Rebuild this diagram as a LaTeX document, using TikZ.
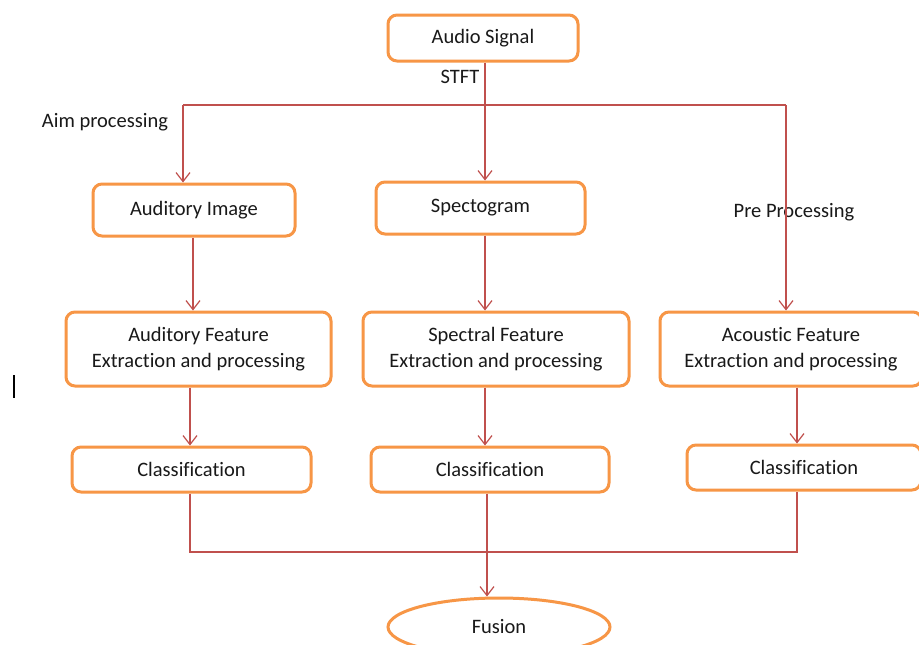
\documentclass[tikz,border=0pt]{standalone}
\usepackage{fontspec}
\setmainfont{Carlito}[Ligatures=NoCommon]
\usetikzlibrary{arrows.meta,shapes.geometric}
\definecolor{boxorange}{RGB}{247,150,70}
\definecolor{linered}{RGB}{192,80,77}
\definecolor{txt}{RGB}{25,25,25}
\begin{document}
\begin{tikzpicture}[x=1pt,y=-1pt,
  box/.style={draw=boxorange,line width=3pt,rounded corners=9pt,fill=white,
    text=txt,font=\fontsize{20.5}{26}\selectfont,align=center,inner sep=0pt},
  oval/.style={draw=boxorange,line width=3pt,ellipse,fill=white,
    text=txt,font=\fontsize{20.5}{26}\selectfont,inner sep=0pt},
  lbl/.style={text=txt,font=\fontsize{20.5}{26}\selectfont,inner sep=0pt},
  conn/.style={draw=linered,line width=1.2pt},
  arr/.style={conn,-{Straight Barb[length=9pt,width=14pt,line width=1.2pt]}}]
\useasboundingbox (0,0) rectangle (919,645);
\clip (0,0) rectangle (919,645);
\fill[white] (0,0) rectangle (919,645);

% nodes
\node[box,minimum width=190,minimum height=46] (audio) at (483,38) {Audio Signal};
\node[box,minimum width=202,minimum height=52] (audimg) at (194,210) {Auditory Image};
\node[box,minimum width=209,minimum height=52] (spec) at (480.5,208) {Spectogram};
\node[box,minimum width=265,minimum height=74] (audfeat) at (198.5,349) {Auditory Feature\\Extraction and processing};
\node[box,minimum width=266,minimum height=74] (specfeat) at (496,349) {Spectral Feature\\Extraction and processing};
\node[box,minimum width=262,minimum height=74] (acoufeat) at (791,349) {Acoustic Feature\\Extraction and processing};
\node[box,minimum width=239,minimum height=45] (class1) at (191.5,469.5) {Classification};
\node[box,minimum width=238,minimum height=45] (class2) at (490,469.5) {Classification};
\node[box,minimum width=234,minimum height=45] (class3) at (804,467.5) {Classification};
\node[oval,minimum width=222,minimum height=58] (fusion) at (499,627) {Fusion};

% labels
\node[lbl] (stft) at (460,77) {STFT};
\node[lbl] (aim) at (105,122) {Aim processing};
\node[lbl] (pre) at (794,212) {Pre Processing};

% trunk coordinates
\coordinate (xl) at (183,105);
\coordinate (xm) at (485,105);
\coordinate (xr) at (786,105);
\coordinate (xa) at (193,0);
\coordinate (xl2) at (190,0);
\coordinate (xr2) at (797,0);
\coordinate (xf) at (487,0);
\coordinate (yb) at (0,552);

% top distribution
\draw[conn] (audio.south -| xm) -- (xm);
\draw[conn] (xl) -- (xr);
\draw[arr] (xl) -- (xl |- audimg.north);
\draw[arr] (xm) -- (xm |- spec.north);
\draw[arr] (xr) -- (xr |- acoufeat.north);

% middle arrows
\draw[arr] (audimg.south -| xa) -- (audfeat.north -| xa);
\draw[arr] (spec.south -| xm) -- (specfeat.north -| xm);
\draw[arr] (audfeat.south -| xl2) -- (class1.north -| xl2);
\draw[arr] (specfeat.south -| xm) -- (class2.north -| xm);
\draw[arr] (acoufeat.south -| xr2) -- (class3.north -| xr2);

% bottom collection
\draw[conn] (class1.south -| xl2) -- (xl2 |- yb) -- (xr2 |- yb) -- (class3.south -| xr2);
\draw[arr] (class2.south -| xf) -- (fusion.north -| xf);

% stray cursor mark
\draw[line width=2.5pt,black] (14,375) -- (14,398);
\end{tikzpicture}
\end{document}
